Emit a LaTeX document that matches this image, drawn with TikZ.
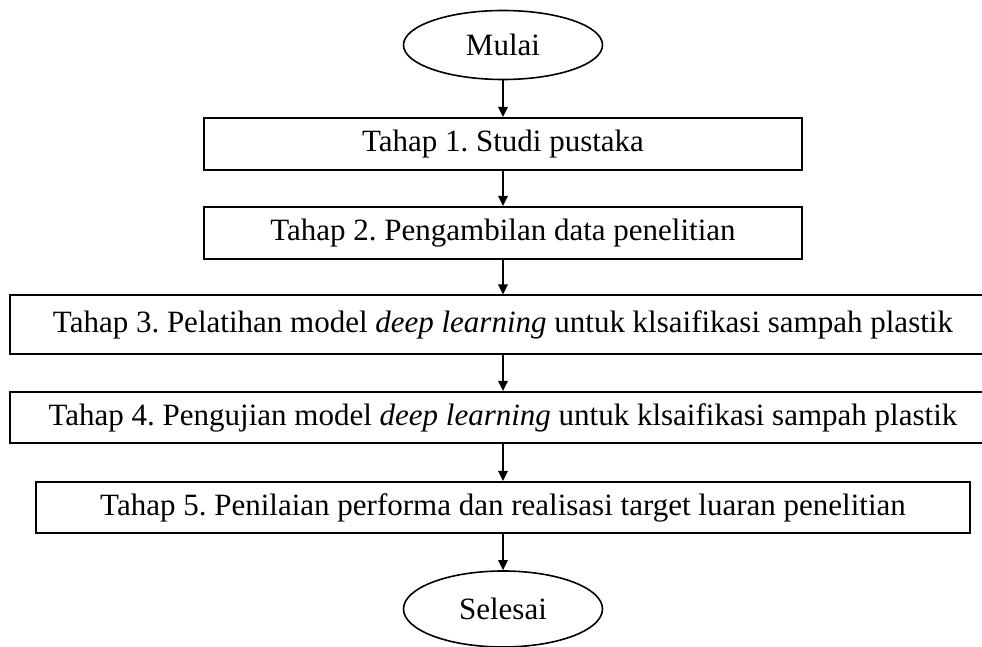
\documentclass[tikz,border=0pt]{standalone}
\usepackage{fontspec}
\setmainfont{Liberation Serif}
\usepackage{xcolor}
\definecolor{ColBlack}{RGB}{0,0,0}
\usepackage{tikz}
\usetikzlibrary{shapes.geometric}
\usetikzlibrary{arrows.meta}
\frenchspacing
\tikzstyle{Terminal}=[ColBlack!100,draw,ellipse,line width=0.8pt,inner sep=0pt,
    minimum width=99.5pt,minimum height=34.5pt,font=\fontsize{15.5}{18}\selectfont]
\tikzstyle{Stage}=[ColBlack!100,draw,rectangle,line width=1pt,inner sep=0pt,
    minimum height=26pt,font=\fontsize{15.5}{18}\selectfont]
\tikzstyle{Flow}=[ColBlack!100,draw,line width=1pt,
    -{Triangle[length=5pt,width=4.6pt]}]
\newcommand{\DL}{\textit{deep learning}}

\begin{document}
\begin{tikzpicture}[x=0.5pt,y=-0.5pt]
        \useasboundingbox(0,0)rectangle(982,647);
        \node[Terminal](Start)at(503,45){Mulai};
        \node[Stage,minimum width=299pt](S1)at(503,144){Tahap 1. Studi pustaka};
        \node[Stage,minimum width=299pt](S2)at(503,233)
            {Tahap 2. Pengambilan data penelitian};
        \node[Stage,minimum width=493pt,minimum height=29.5pt](S3)at(503,325)
            {Tahap 3. Pelatihan model \DL{} untuk klsaifikasi sampah plastik};
        \node[Stage,minimum width=493pt,minimum height=25.5pt](S4)at(503,417.5)
            {Tahap 4. Pengujian model \DL{} untuk klsaifikasi sampah plastik};
        \node[Stage,minimum width=467pt,minimum height=25.5pt](S5)at(503,507.5)
            {Tahap 5. Penilaian performa dan realisasi target luaran penelitian};
        \node[Terminal,minimum height=38pt](End)at(503,609){Selesai};
        \draw[Flow](Start)--(S1);
        \draw[Flow](S1)--(S2);
        \draw[Flow](S2)--(S3);
        \draw[Flow](S3)--(S4);
        \draw[Flow](S4)--(S5);
        \draw[Flow](S5)--(End);
    \end{tikzpicture}
\end{document}
